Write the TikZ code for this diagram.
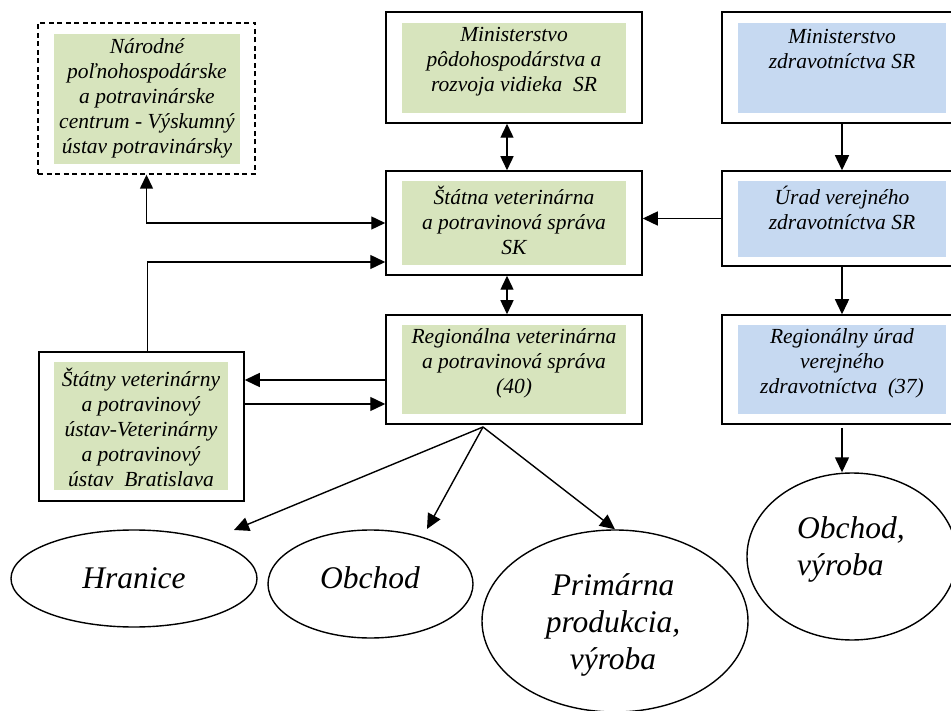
\documentclass[tikz,border=0pt]{standalone}
\usepackage{fontspec}
\setmainfont{Liberation Serif}
\usetikzlibrary{shapes.geometric,arrows.meta}
\definecolor{gfill}{HTML}{D7E4BD}
\definecolor{bfill}{HTML}{C6D9F1}
\begin{document}
\begin{tikzpicture}[x=1pt,y=-1pt,
  obox/.style={draw, line width=1.5pt, inner sep=0pt},
  dbox/.style={draw, line width=1.4pt, dash pattern=on 5pt off 3.5pt, inner sep=0pt},
  btxt/.style={font=\itshape\fontsize{21.5}{25}\selectfont, align=center, inner sep=0pt},
  etxt/.style={font=\itshape\fontsize{31.5}{37}\selectfont, align=center, inner sep=0pt},
  ell/.style={draw, ellipse, line width=1.4pt, inner sep=0pt},
  arr/.style={line width=1.4pt, -{Triangle[length=15pt,width=14pt]}},
  darr/.style={line width=1.4pt, {Triangle[length=14pt,width=13pt]}-{Triangle[length=14pt,width=13pt]}}
]
\useasboundingbox (0,0) rectangle (951,711);
\clip (0,0) rectangle (951,711);

% ---------- boxes ----------
\node[dbox, minimum width=217pt, minimum height=151pt] (nppc) at (146.5,98.5) {};
\fill[gfill] (54,34) rectangle (240,164);
\node[btxt] (nppcT) at (147,98) {Národné\\poľnohospodárske\\a potravinárske\\centrum - Výskumný\\ústav potravinársky};

\node[obox, minimum width=256pt, minimum height=111pt] (mprv) at (514,67.5) {};
\fill[gfill] (402,23) rectangle (626,113);
\node[btxt] (mprvT) at (514,61.5) {Ministerstvo\\pôdohospodárstva a\\rozvoja vidieka\ \ SR};

\node[obox, minimum width=240pt, minimum height=111pt] (mz) at (842,67.5) {};
\fill[bfill] (738,23) rectangle (946,113);
\node[btxt] (mzT) at (842,49) {Ministerstvo\\zdravotníctva SR};

\node[obox, minimum width=256pt, minimum height=104pt] (svps) at (514,223) {};
\fill[gfill] (402,181) rectangle (626,265);
\node[btxt] (svpsT) at (514,220) {Štátna veterinárna\\a potravinová správa\\SK};

\node[obox, minimum width=240pt, minimum height=95pt] (uvz) at (842,218.5) {};
\fill[bfill] (738,181) rectangle (946,257);
\node[btxt] (uvzT) at (842,208) {Úrad verejného\\zdravotníctva SR};

\node[obox, minimum width=256pt, minimum height=109pt] (rvps) at (514,369.5) {};
\fill[gfill] (402,325) rectangle (626,414);
\node[btxt] (rvpsT) at (514,363) {Regionálna veterinárna\\a potravinová správa\\(40)};

\node[obox, minimum width=240pt, minimum height=109pt] (ruvz) at (842,369.5) {};
\fill[bfill] (738,325) rectangle (946,414);
\node[btxt] (ruvzT) at (842,363) {Regionálny úrad\\verejného\\zdravotníctva\ \ (37)};

\node[obox, minimum width=205pt, minimum height=149pt] (svpu) at (141.5,426.5) {};
\fill[gfill] (54,362) rectangle (228,490);
\node[btxt] (svpuT) at (141,427) {Štátny veterinárny\\a potravinový\\ústav-Veterinárny\\a potravinový\\ústav\ \ Bratislava};

% ---------- ellipses ----------
\node[ell, minimum width=246pt, minimum height=97pt] (hran) at (134,578.5) {};
\node[etxt] (hranT) at (134,578) {Hranice};
\node[ell, minimum width=205pt, minimum height=108pt] (obch) at (370.5,584) {};
\node[etxt] (obchT) at (370,578) {Obchod};
\node[ell, minimum width=266pt, minimum height=182pt] (prim) at (615,621) {};
\node[etxt] (primT) at (613,625) {Primárna\\produkcia,\\výroba};
\node[ell, minimum width=210pt, minimum height=167pt] (obvy) at (852,556.5) {};
\node[etxt, align=left, anchor=west] (obvyT) at (797,549) {Obchod,\\výroba};

% ---------- connectors ----------
\draw[darr] ([xshift=-7pt]mprv.south) -- ([xshift=-7pt]svps.north);
\draw[darr] ([xshift=-7pt]svps.south) -- ([xshift=-7pt]rvps.north);
\draw[arr] (mz.south) -- (uvz.north);
\draw[arr] (uvz.west) -- (uvz.west -| svps.east);
\draw[arr] (uvz.south) -- (ruvz.north);
\draw[arr] ([yshift=-3pt]ruvz.south) -- (ruvz.south |- obvy.north);
\draw[darr] (nppc.south) |- (svps.west);
\draw[arr] ([xshift=6pt]svpu.north) |- ([yshift=-39pt]svps.west);
\draw[arr] (rvps.west |- 0,380) -- (svpu.east |- 0,380);
\draw[arr] (svpu.east |- 0,404) -- (rvps.west |- 0,404);

\coordinate (rsrc) at (483,427);
\coordinate (tH) at (234,530);
\coordinate (tO) at (427,529);
\draw[arr] (rsrc) -- (tH);
\draw[arr] (rsrc) -- (tO);
\draw[arr] (rsrc) -- (prim.north);
\end{tikzpicture}
\end{document}
